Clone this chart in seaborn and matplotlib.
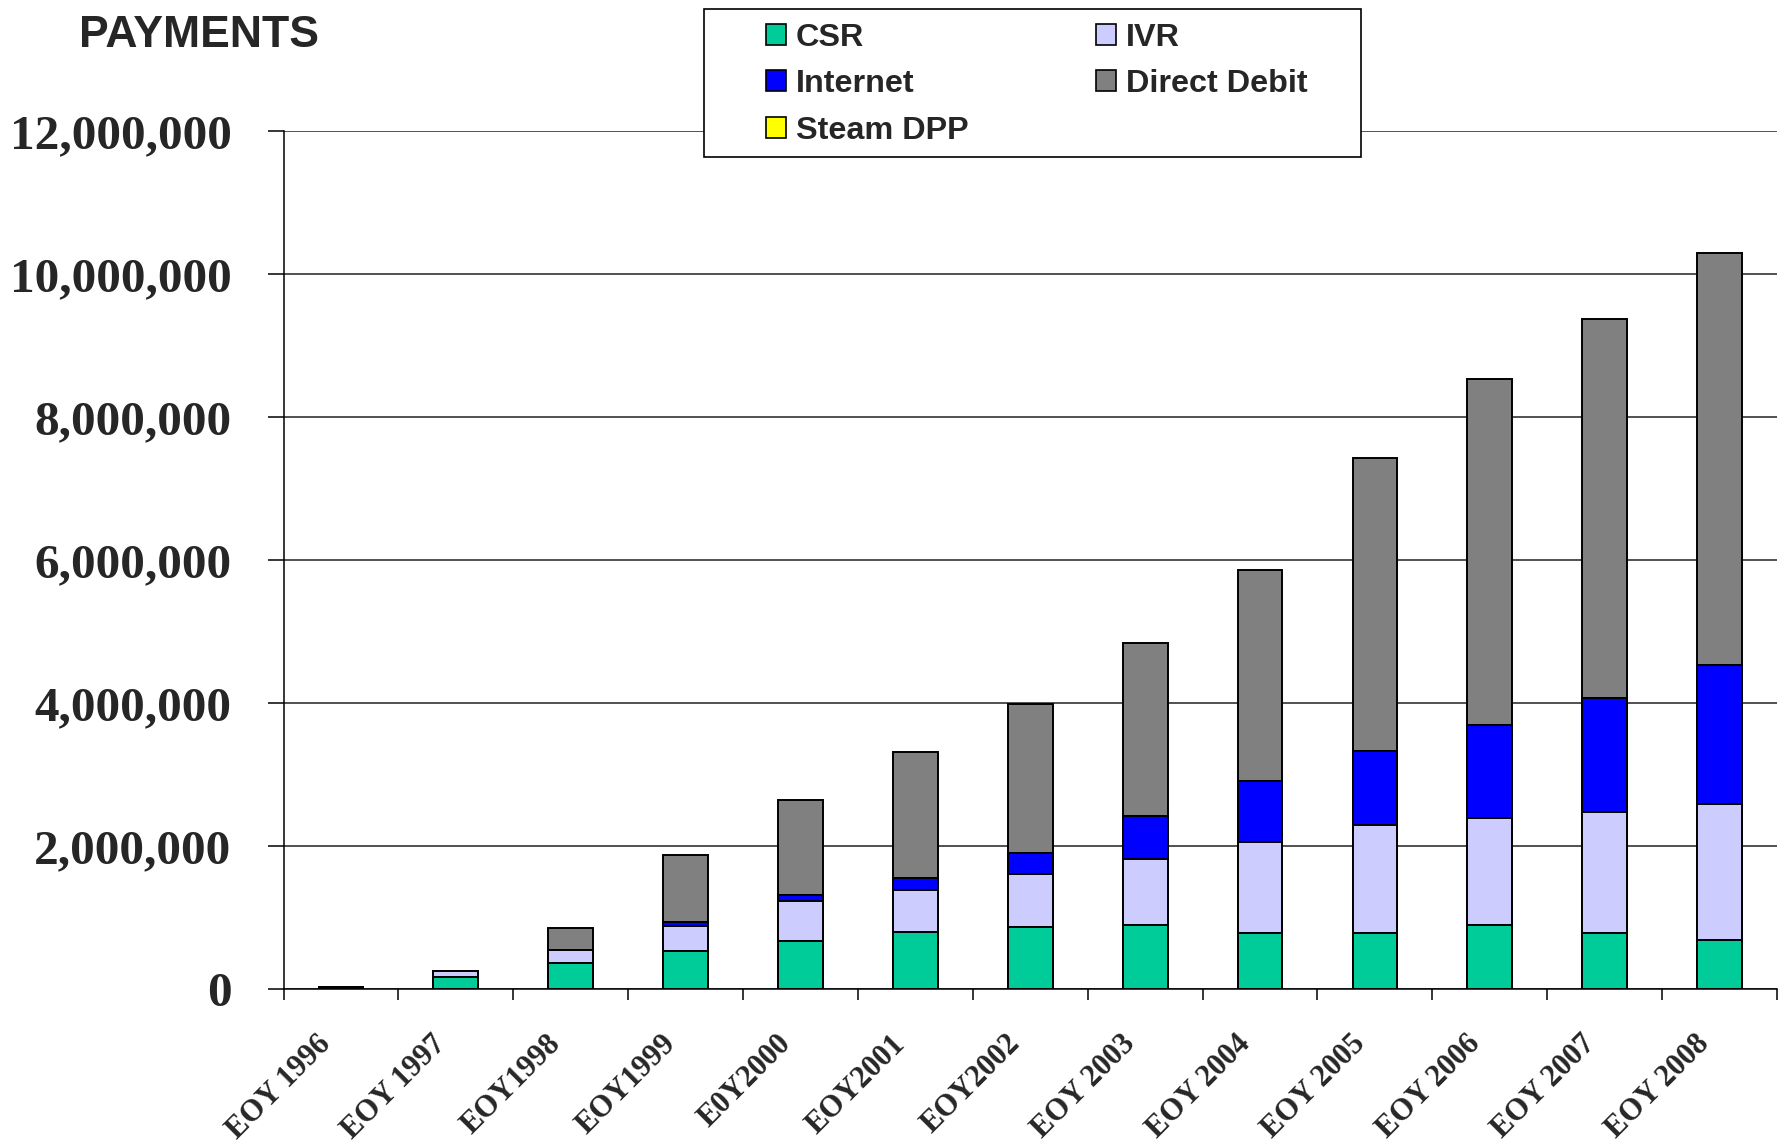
import numpy as np
import pandas as pd
import matplotlib
matplotlib.use("Agg")
import matplotlib.pyplot as plt
import matplotlib.transforms as mtransforms
from matplotlib.patches import Patch, Rectangle
import seaborn as sns

# Year-end labels
years = ["EOY 1996", "EOY 1997", "EOY1998", "EOY1999", "E0Y2000", "EOY2001",
         "EOY2002", "EOY 2003", "EOY 2004", "EOY 2005", "EOY 2006", "EOY 2007",
         "EOY 2008"]

# Payments by channel (stacked bottom to top)
csr = [25000, 164000, 360000, 530000, 670000, 800000, 867000, 890000,
       780000, 780000, 895000, 780000, 680000]
ivr = [0, 92000, 185000, 355000, 560000, 590000, 743000, 930000,
       1280000, 1510000, 1505000, 1690000, 1910000]
internet = [0, 0, 0, 55000, 85000, 160000, 296000, 600000,
            850000, 1040000, 1300000, 1600000, 1950000]
steam_dpp = [0] * 13
direct_debit = [0, 0, 305000, 934000, 1335000, 1770000, 2084000, 2420000,
                2950000, 4100000, 4840000, 5310000, 5760000]

series_names = ["CSR", "IVR", "Internet", "Steam DPP", "Direct Debit"]
series_values = [csr, ivr, internet, steam_dpp, direct_debit]
series_colors = ["#00CC99", "#CCCCFF", "#0000FF", "#FFFF00", "#808080"]

y_ticks = [0, 2000000, 4000000, 6000000, 8000000, 10000000, 12000000]

sns.set_style("white")
plt.rcParams["font.family"] = ["Liberation Serif", "DejaVu Serif"]

W, H = 1778, 1144
fig = plt.figure(figsize=(W / 100, H / 100), dpi=100)
ax = fig.add_axes([283.5 / W, 1 - 989 / H, (1777 - 283.5) / W, (989 - 131.5) / H])

df = pd.DataFrame({name: vals for name, vals in zip(series_names, series_values)})
df["year"] = years
cum = df[series_names].cumsum(axis=1)

# Stack by drawing cumulative totals from the top layer downwards
for name, color in reversed(list(zip(series_names, series_colors))):
    sns.barplot(x=df["year"], y=cum[name], order=years, color=color,
                saturation=1, width=0.39, edgecolor="black", linewidth=1.4,
                ax=ax, zorder=3)

ax.set_xlim(-0.5, len(years) - 0.5)
ax.set_ylim(0, 12000000)
ax.set_xlabel("")
ax.set_ylabel("")

# Y axis
ax.set_yticks(y_ticks)
ax.set_yticklabels([f"{v:,.0f}" for v in y_ticks], fontsize=35.5, fontweight="bold")
ax.tick_params(axis="y", direction="out", length=11.5, width=1.1, pad=26,
               color="black", left=True)
ax.yaxis.grid(True, color="#222222", linewidth=1.1, zorder=0)
ax.xaxis.grid(False)
ax.set_axisbelow(True)

# X axis: tick marks at category boundaries, labels at bar centres
ax.set_xticks(np.arange(-0.5, len(years)), labels=[""] * (len(years) + 1))
ax.set_xticks(np.arange(len(years)), labels=years, minor=True)
ax.tick_params(axis="x", which="major", direction="out", length=8, width=1.1,
               color="black", bottom=True)
ax.tick_params(axis="x", which="minor", length=0, pad=29)
offset = mtransforms.ScaledTranslation(-4 / 100, 0, fig.dpi_scale_trans)
for lbl in ax.get_xticklabels(minor=True):
    lbl.set_rotation(45)
    lbl.set_ha("right")
    lbl.set_va("top")
    lbl.set_fontsize(22)
    lbl.set_fontweight("bold")
    lbl.set_transform(lbl.get_transform() + offset)

for side in ["top", "right"]:
    ax.spines[side].set_visible(False)
for side in ["left", "bottom"]:
    ax.spines[side].set_color("black")
    ax.spines[side].set_linewidth(1.1)
    ax.spines[side].set_zorder(4)

# Title
fig.text(79 / W, 1 - 47 / H, "PAYMENTS", fontsize=32, fontweight="bold",
         family=["Liberation Sans", "DejaVu Sans"], ha="left", va="baseline")

# Legend box
fig.patches.append(Rectangle((704 / W, 1 - 156.5 / H), (1361 - 704) / W, 147.5 / H,
                             transform=fig.transFigure, facecolor="white",
                             edgecolor="black", linewidth=1.2, zorder=2))
handles = {n: Patch(facecolor=c, edgecolor="black", linewidth=1.2)
           for n, c in zip(series_names, series_colors)}
leg_order = ["CSR", "Internet", "Steam DPP", "IVR", "Direct Debit"]
leg = fig.legend([handles[n] for n in leg_order], leg_order, ncol=2,
                 loc="upper left", bbox_to_anchor=(766 / W, 1 - 22.5 / H),
                 frameon=False, borderpad=0, borderaxespad=0,
                 prop={"family": ["Liberation Sans", "DejaVu Sans"],
                       "weight": "bold", "size": 23.3},
                 handlelength=0.62, handleheight=0.62, handletextpad=0.3,
                 labelspacing=0.52, columnspacing=3.95)
leg.set_zorder(3)

fig.savefig("out.png", dpi=100)
